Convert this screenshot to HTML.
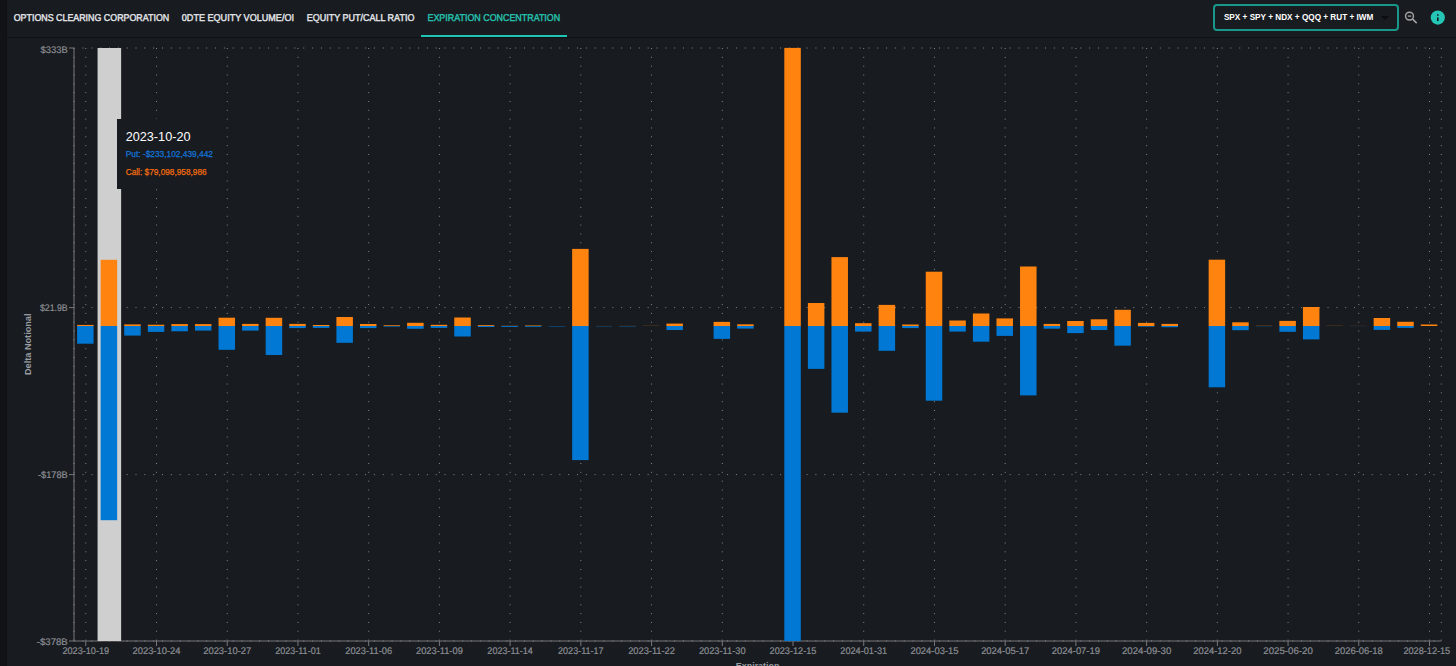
<!DOCTYPE html>
<html><head><meta charset="utf-8"><title>Expiration Concentration</title>
<style>
*{margin:0;padding:0;box-sizing:border-box}
html,body{width:1456px;height:666px;overflow:hidden;background:#181b1f;font-family:"Liberation Sans",sans-serif}
.strip{position:absolute;left:0;top:0;width:7px;height:666px;background:#111316}
.strip:after{content:"";position:absolute;right:0;top:0;width:1.5px;height:100%;background:#0e1012}
.hline{position:absolute;left:7px;right:0;top:37px;height:1px;background:#101215}
.uline{position:absolute;left:421px;top:35px;width:146px;height:2px;background:#1fc6b4}
.sel{position:absolute;left:1213px;top:4px;width:186px;height:27px;border:2px solid #19978a;border-radius:4px;background:#181b1f}
.sel i{position:absolute;left:166px;top:10px;width:0;height:0;border-left:4px solid transparent;border-right:4px solid transparent;border-top:4px solid #0c0d10}
svg{position:absolute;left:0;top:0}
text{font-family:"Liberation Sans",sans-serif}
.tl{text-rendering:geometricPrecision;font-size:9.6px;fill:#8a8d93;stroke:#8a8d93;stroke-width:0.2px}
.at{font-size:9.4px;font-weight:700;fill:#9a9da3}
.tab{text-rendering:geometricPrecision;font-size:9.9px;font-weight:400;stroke-width:0.4px}
.selt{font-size:9.3px;font-weight:700;fill:#fff}
.tip{position:absolute;left:117px;top:119px;width:106px;height:70px;background:#181b1f}
</style></head><body>
<div class="strip"></div>
<div class="hline"></div>
<div class="uline"></div>
<div class="sel"><i></i></div>
<svg width="1456" height="666" viewBox="0 0 1456 666">
<line x1="74" y1="48" x2="74" y2="641" stroke="#75777b" stroke-width="1"/>
<line x1="74" y1="641" x2="1441.3" y2="641" stroke="#75777b" stroke-width="1"/>
<line x1="74" y1="48" x2="1441.3" y2="48" stroke="#85888d" stroke-width="1" stroke-dasharray="1 7.83" stroke-dashoffset="0.3"/>
<line x1="74" y1="307.6" x2="1441.3" y2="307.6" stroke="#85888d" stroke-width="1" stroke-dasharray="1 7.83" stroke-dashoffset="0.3"/>
<line x1="74" y1="474.6" x2="1441.3" y2="474.6" stroke="#85888d" stroke-width="1" stroke-dasharray="1 7.83" stroke-dashoffset="0.3"/>
<line x1="74" y1="641" x2="1441.3" y2="641" stroke="#85888d" stroke-width="1" stroke-dasharray="1 7.83" stroke-dashoffset="0.3"/>
<line x1="85.79" y1="48" x2="85.79" y2="641" stroke="#85888d" stroke-width="1" stroke-dasharray="1 7.83"/>
<line x1="156.51" y1="48" x2="156.51" y2="641" stroke="#85888d" stroke-width="1" stroke-dasharray="1 7.83"/>
<line x1="227.23" y1="48" x2="227.23" y2="641" stroke="#85888d" stroke-width="1" stroke-dasharray="1 7.83"/>
<line x1="297.95" y1="48" x2="297.95" y2="641" stroke="#85888d" stroke-width="1" stroke-dasharray="1 7.83"/>
<line x1="368.68" y1="48" x2="368.68" y2="641" stroke="#85888d" stroke-width="1" stroke-dasharray="1 7.83"/>
<line x1="439.4" y1="48" x2="439.4" y2="641" stroke="#85888d" stroke-width="1" stroke-dasharray="1 7.83"/>
<line x1="510.12" y1="48" x2="510.12" y2="641" stroke="#85888d" stroke-width="1" stroke-dasharray="1 7.83"/>
<line x1="580.84" y1="48" x2="580.84" y2="641" stroke="#85888d" stroke-width="1" stroke-dasharray="1 7.83"/>
<line x1="651.57" y1="48" x2="651.57" y2="641" stroke="#85888d" stroke-width="1" stroke-dasharray="1 7.83"/>
<line x1="722.29" y1="48" x2="722.29" y2="641" stroke="#85888d" stroke-width="1" stroke-dasharray="1 7.83"/>
<line x1="793.01" y1="48" x2="793.01" y2="641" stroke="#85888d" stroke-width="1" stroke-dasharray="1 7.83"/>
<line x1="863.73" y1="48" x2="863.73" y2="641" stroke="#85888d" stroke-width="1" stroke-dasharray="1 7.83"/>
<line x1="934.46" y1="48" x2="934.46" y2="641" stroke="#85888d" stroke-width="1" stroke-dasharray="1 7.83"/>
<line x1="1005.18" y1="48" x2="1005.18" y2="641" stroke="#85888d" stroke-width="1" stroke-dasharray="1 7.83"/>
<line x1="1075.9" y1="48" x2="1075.9" y2="641" stroke="#85888d" stroke-width="1" stroke-dasharray="1 7.83"/>
<line x1="1146.62" y1="48" x2="1146.62" y2="641" stroke="#85888d" stroke-width="1" stroke-dasharray="1 7.83"/>
<line x1="1217.35" y1="48" x2="1217.35" y2="641" stroke="#85888d" stroke-width="1" stroke-dasharray="1 7.83"/>
<line x1="1288.07" y1="48" x2="1288.07" y2="641" stroke="#85888d" stroke-width="1" stroke-dasharray="1 7.83"/>
<line x1="1358.79" y1="48" x2="1358.79" y2="641" stroke="#85888d" stroke-width="1" stroke-dasharray="1 7.83"/>
<line x1="1429.51" y1="48" x2="1429.51" y2="641" stroke="#85888d" stroke-width="1" stroke-dasharray="1 7.83"/>
<line x1="1441.3" y1="48" x2="1441.3" y2="641" stroke="#85888d" stroke-width="1" stroke-dasharray="1 7.83"/>
<line x1="74" y1="48" x2="74" y2="641" stroke="#85888d" stroke-width="1" stroke-dasharray="1 7.83"/>
<rect x="97.57" y="48" width="23.57" height="593" fill="#cfcfcf"/>
<rect x="77.09" y="324.9" width="16.5" height="1.1" fill="#ff840f"/>
<rect x="77.09" y="326" width="16.5" height="17.7" fill="#0078d4"/>
<rect x="100.66" y="259.8" width="16.5" height="66.2" fill="#ff840f"/>
<rect x="100.66" y="326" width="16.5" height="194.2" fill="#0078d4"/>
<rect x="124.24" y="324.4" width="16.5" height="1.6" fill="#ff840f"/>
<rect x="124.24" y="326" width="16.5" height="9.6" fill="#0078d4"/>
<rect x="147.81" y="324.7" width="16.5" height="1.3" fill="#ff840f"/>
<rect x="147.81" y="326" width="16.5" height="5.9" fill="#0078d4"/>
<rect x="171.38" y="324.1" width="16.5" height="1.9" fill="#ff840f"/>
<rect x="171.38" y="326" width="16.5" height="5.3" fill="#0078d4"/>
<rect x="194.96" y="324.1" width="16.5" height="1.9" fill="#ff840f"/>
<rect x="194.96" y="326" width="16.5" height="4.6" fill="#0078d4"/>
<rect x="218.53" y="317.7" width="16.5" height="8.3" fill="#ff840f"/>
<rect x="218.53" y="326" width="16.5" height="23.8" fill="#0078d4"/>
<rect x="242.11" y="323.9" width="16.5" height="2.1" fill="#ff840f"/>
<rect x="242.11" y="326" width="16.5" height="4.6" fill="#0078d4"/>
<rect x="265.68" y="317.8" width="16.5" height="8.2" fill="#ff840f"/>
<rect x="265.68" y="326" width="16.5" height="29" fill="#0078d4"/>
<rect x="289.25" y="323.9" width="16.5" height="2.1" fill="#ff840f"/>
<rect x="289.25" y="326" width="16.5" height="2.1" fill="#0078d4"/>
<rect x="312.83" y="325" width="16.5" height="1" fill="#ff840f"/>
<rect x="312.83" y="326" width="16.5" height="1.9" fill="#0078d4"/>
<rect x="336.4" y="317" width="16.5" height="9" fill="#ff840f"/>
<rect x="336.4" y="326" width="16.5" height="16.8" fill="#0078d4"/>
<rect x="359.98" y="324" width="16.5" height="2" fill="#ff840f"/>
<rect x="359.98" y="326" width="16.5" height="2.1" fill="#0078d4"/>
<rect x="383.55" y="325.3" width="16.5" height="0.7" fill="#ff840f"/>
<rect x="383.55" y="326" width="16.5" height="0.6" fill="#0078d4"/>
<rect x="407.12" y="322.8" width="16.5" height="3.2" fill="#ff840f"/>
<rect x="407.12" y="326" width="16.5" height="2.8" fill="#0078d4"/>
<rect x="430.7" y="324.8" width="16.5" height="1.2" fill="#ff840f"/>
<rect x="430.7" y="326" width="16.5" height="1.9" fill="#0078d4"/>
<rect x="454.27" y="317.5" width="16.5" height="8.5" fill="#ff840f"/>
<rect x="454.27" y="326" width="16.5" height="10.5" fill="#0078d4"/>
<rect x="477.85" y="325.2" width="16.5" height="0.8" fill="#ff840f"/>
<rect x="477.85" y="326" width="16.5" height="1" fill="#0078d4"/>
<rect x="501.42" y="325.8" width="16.5" height="0.2" fill="#ff840f"/>
<rect x="501.42" y="326" width="16.5" height="0.9" fill="#0078d4"/>
<rect x="525" y="325.5" width="16.5" height="0.5" fill="#ff840f"/>
<rect x="525" y="326" width="16.5" height="0.8" fill="#0078d4"/>
<rect x="548.57" y="326" width="16.5" height="0.4" fill="#0078d4"/>
<rect x="572.14" y="248.9" width="16.5" height="77.1" fill="#ff840f"/>
<rect x="572.14" y="326" width="16.5" height="134.1" fill="#0078d4"/>
<rect x="595.72" y="325.95" width="16.5" height="0.05" fill="#ff840f"/>
<rect x="595.72" y="326" width="16.5" height="0.3" fill="#0078d4"/>
<rect x="619.29" y="325.92" width="16.5" height="0.08" fill="#ff840f"/>
<rect x="619.29" y="326" width="16.5" height="0.35" fill="#0078d4"/>
<rect x="642.87" y="325.85" width="16.5" height="0.15" fill="#ff840f"/>
<rect x="666.44" y="323.6" width="16.5" height="2.4" fill="#ff840f"/>
<rect x="666.44" y="326" width="16.5" height="4" fill="#0078d4"/>
<rect x="713.59" y="321.9" width="16.5" height="4.1" fill="#ff840f"/>
<rect x="713.59" y="326" width="16.5" height="12.9" fill="#0078d4"/>
<rect x="737.16" y="324.3" width="16.5" height="1.7" fill="#ff840f"/>
<rect x="737.16" y="326" width="16.5" height="2.6" fill="#0078d4"/>
<rect x="784.31" y="47.9" width="16.5" height="278.1" fill="#ff840f"/>
<rect x="784.31" y="326" width="16.5" height="315" fill="#0078d4"/>
<rect x="807.89" y="303" width="16.5" height="23" fill="#ff840f"/>
<rect x="807.89" y="326" width="16.5" height="42.9" fill="#0078d4"/>
<rect x="831.46" y="257.1" width="16.5" height="68.9" fill="#ff840f"/>
<rect x="831.46" y="326" width="16.5" height="86.7" fill="#0078d4"/>
<rect x="855.03" y="323.2" width="16.5" height="2.8" fill="#ff840f"/>
<rect x="855.03" y="326" width="16.5" height="5.6" fill="#0078d4"/>
<rect x="878.61" y="304.9" width="16.5" height="21.1" fill="#ff840f"/>
<rect x="878.61" y="326" width="16.5" height="24.8" fill="#0078d4"/>
<rect x="902.18" y="324.5" width="16.5" height="1.5" fill="#ff840f"/>
<rect x="902.18" y="326" width="16.5" height="2.1" fill="#0078d4"/>
<rect x="925.76" y="271.7" width="16.5" height="54.3" fill="#ff840f"/>
<rect x="925.76" y="326" width="16.5" height="74.7" fill="#0078d4"/>
<rect x="949.33" y="320.5" width="16.5" height="5.5" fill="#ff840f"/>
<rect x="949.33" y="326" width="16.5" height="5.6" fill="#0078d4"/>
<rect x="972.9" y="313.5" width="16.5" height="12.5" fill="#ff840f"/>
<rect x="972.9" y="326" width="16.5" height="15.7" fill="#0078d4"/>
<rect x="996.48" y="318.4" width="16.5" height="7.6" fill="#ff840f"/>
<rect x="996.48" y="326" width="16.5" height="9.9" fill="#0078d4"/>
<rect x="1020.05" y="266.5" width="16.5" height="59.5" fill="#ff840f"/>
<rect x="1020.05" y="326" width="16.5" height="69.4" fill="#0078d4"/>
<rect x="1043.63" y="323.9" width="16.5" height="2.1" fill="#ff840f"/>
<rect x="1043.63" y="326" width="16.5" height="2.7" fill="#0078d4"/>
<rect x="1067.2" y="321" width="16.5" height="5" fill="#ff840f"/>
<rect x="1067.2" y="326" width="16.5" height="7.1" fill="#0078d4"/>
<rect x="1090.77" y="319.3" width="16.5" height="6.7" fill="#ff840f"/>
<rect x="1090.77" y="326" width="16.5" height="4" fill="#0078d4"/>
<rect x="1114.35" y="309.8" width="16.5" height="16.2" fill="#ff840f"/>
<rect x="1114.35" y="326" width="16.5" height="19.7" fill="#0078d4"/>
<rect x="1137.92" y="322.9" width="16.5" height="3.1" fill="#ff840f"/>
<rect x="1137.92" y="326" width="16.5" height="0.6" fill="#0078d4"/>
<rect x="1161.5" y="323.9" width="16.5" height="2.1" fill="#ff840f"/>
<rect x="1161.5" y="326" width="16.5" height="1.2" fill="#0078d4"/>
<rect x="1208.65" y="259.7" width="16.5" height="66.3" fill="#ff840f"/>
<rect x="1208.65" y="326" width="16.5" height="61.3" fill="#0078d4"/>
<rect x="1232.22" y="322.3" width="16.5" height="3.7" fill="#ff840f"/>
<rect x="1232.22" y="326" width="16.5" height="4.2" fill="#0078d4"/>
<rect x="1255.79" y="325.82" width="16.5" height="0.18" fill="#ff840f"/>
<rect x="1255.79" y="326" width="16.5" height="0.18" fill="#0078d4"/>
<rect x="1279.37" y="320.9" width="16.5" height="5.1" fill="#ff840f"/>
<rect x="1279.37" y="326" width="16.5" height="5.8" fill="#0078d4"/>
<rect x="1302.94" y="307" width="16.5" height="19" fill="#ff840f"/>
<rect x="1302.94" y="326" width="16.5" height="13.4" fill="#0078d4"/>
<rect x="1326.52" y="325.85" width="16.5" height="0.15" fill="#ff840f"/>
<rect x="1350.09" y="325.92" width="16.5" height="0.08" fill="#ff840f"/>
<rect x="1350.09" y="326" width="16.5" height="0.08" fill="#0078d4"/>
<rect x="1373.66" y="318" width="16.5" height="8" fill="#ff840f"/>
<rect x="1373.66" y="326" width="16.5" height="3.9" fill="#0078d4"/>
<rect x="1397.24" y="321.8" width="16.5" height="4.2" fill="#ff840f"/>
<rect x="1397.24" y="326" width="16.5" height="1.9" fill="#0078d4"/>
<rect x="1420.81" y="324.5" width="16.5" height="1.5" fill="#ff840f"/>
<line x1="69" y1="48" x2="74" y2="48" stroke="#75777b" stroke-width="1"/>
<text x="40.5" y="52.8" textLength="27.2" lengthAdjust="spacingAndGlyphs" class="tl">$333B</text>
<line x1="69" y1="307.6" x2="74" y2="307.6" stroke="#75777b" stroke-width="1"/>
<text x="39.9" y="310.8" textLength="27.8" lengthAdjust="spacingAndGlyphs" class="tl">$21.9B</text>
<line x1="69" y1="474.6" x2="74" y2="474.6" stroke="#75777b" stroke-width="1"/>
<text x="38" y="477.8" textLength="29.7" lengthAdjust="spacingAndGlyphs" class="tl">-$178B</text>
<line x1="69" y1="641" x2="74" y2="641" stroke="#75777b" stroke-width="1"/>
<text x="36.8" y="644.5" textLength="30.9" lengthAdjust="spacingAndGlyphs" class="tl">-$378B</text>
<line x1="85.79" y1="641" x2="85.79" y2="646" stroke="#75777b" stroke-width="1"/>
<text x="62.39" y="653.9" textLength="46.8" lengthAdjust="spacingAndGlyphs" class="tl">2023-10-19</text>
<line x1="156.51" y1="641" x2="156.51" y2="646" stroke="#75777b" stroke-width="1"/>
<text x="132.46" y="653.9" textLength="48.1" lengthAdjust="spacingAndGlyphs" class="tl">2023-10-24</text>
<line x1="227.23" y1="641" x2="227.23" y2="646" stroke="#75777b" stroke-width="1"/>
<text x="203.18" y="653.9" textLength="48.1" lengthAdjust="spacingAndGlyphs" class="tl">2023-10-27</text>
<line x1="297.95" y1="641" x2="297.95" y2="646" stroke="#75777b" stroke-width="1"/>
<text x="275.2" y="653.9" textLength="45.5" lengthAdjust="spacingAndGlyphs" class="tl">2023-11-01</text>
<line x1="368.68" y1="641" x2="368.68" y2="646" stroke="#75777b" stroke-width="1"/>
<text x="345.28" y="653.9" textLength="46.8" lengthAdjust="spacingAndGlyphs" class="tl">2023-11-06</text>
<line x1="439.4" y1="641" x2="439.4" y2="646" stroke="#75777b" stroke-width="1"/>
<text x="416" y="653.9" textLength="46.8" lengthAdjust="spacingAndGlyphs" class="tl">2023-11-09</text>
<line x1="510.12" y1="641" x2="510.12" y2="646" stroke="#75777b" stroke-width="1"/>
<text x="487.37" y="653.9" textLength="45.5" lengthAdjust="spacingAndGlyphs" class="tl">2023-11-14</text>
<line x1="580.84" y1="641" x2="580.84" y2="646" stroke="#75777b" stroke-width="1"/>
<text x="558.09" y="653.9" textLength="45.5" lengthAdjust="spacingAndGlyphs" class="tl">2023-11-17</text>
<line x1="651.57" y1="641" x2="651.57" y2="646" stroke="#75777b" stroke-width="1"/>
<text x="628.17" y="653.9" textLength="46.8" lengthAdjust="spacingAndGlyphs" class="tl">2023-11-22</text>
<line x1="722.29" y1="641" x2="722.29" y2="646" stroke="#75777b" stroke-width="1"/>
<text x="698.89" y="653.9" textLength="46.8" lengthAdjust="spacingAndGlyphs" class="tl">2023-11-30</text>
<line x1="793.01" y1="641" x2="793.01" y2="646" stroke="#75777b" stroke-width="1"/>
<text x="769.61" y="653.9" textLength="46.8" lengthAdjust="spacingAndGlyphs" class="tl">2023-12-15</text>
<line x1="863.73" y1="641" x2="863.73" y2="646" stroke="#75777b" stroke-width="1"/>
<text x="840.33" y="653.9" textLength="46.8" lengthAdjust="spacingAndGlyphs" class="tl">2024-01-31</text>
<line x1="934.46" y1="641" x2="934.46" y2="646" stroke="#75777b" stroke-width="1"/>
<text x="910.41" y="653.9" textLength="48.1" lengthAdjust="spacingAndGlyphs" class="tl">2024-03-15</text>
<line x1="1005.18" y1="641" x2="1005.18" y2="646" stroke="#75777b" stroke-width="1"/>
<text x="981.13" y="653.9" textLength="48.1" lengthAdjust="spacingAndGlyphs" class="tl">2024-05-17</text>
<line x1="1075.9" y1="641" x2="1075.9" y2="646" stroke="#75777b" stroke-width="1"/>
<text x="1051.85" y="653.9" textLength="48.1" lengthAdjust="spacingAndGlyphs" class="tl">2024-07-19</text>
<line x1="1146.62" y1="641" x2="1146.62" y2="646" stroke="#75777b" stroke-width="1"/>
<text x="1121.92" y="653.9" textLength="49.4" lengthAdjust="spacingAndGlyphs" class="tl">2024-09-30</text>
<line x1="1217.35" y1="641" x2="1217.35" y2="646" stroke="#75777b" stroke-width="1"/>
<text x="1193.3" y="653.9" textLength="48.1" lengthAdjust="spacingAndGlyphs" class="tl">2024-12-20</text>
<line x1="1288.07" y1="641" x2="1288.07" y2="646" stroke="#75777b" stroke-width="1"/>
<text x="1263.37" y="653.9" textLength="49.4" lengthAdjust="spacingAndGlyphs" class="tl">2025-06-20</text>
<line x1="1358.79" y1="641" x2="1358.79" y2="646" stroke="#75777b" stroke-width="1"/>
<text x="1334.74" y="653.9" textLength="48.1" lengthAdjust="spacingAndGlyphs" class="tl">2026-06-18</text>
<line x1="1429.51" y1="641" x2="1429.51" y2="646" stroke="#75777b" stroke-width="1"/>
<text x="1403.4" y="653.9" textLength="46.8" lengthAdjust="spacingAndGlyphs" class="tl">2028-12-15</text>
<text x="0" y="0" transform="translate(31.2 375) rotate(-90)" textLength="61.5" lengthAdjust="spacingAndGlyphs" class="at">Delta Notional</text>
<text x="735.8" y="669" textLength="43.6" lengthAdjust="spacingAndGlyphs" class="at">Expiration</text>
</svg>
<div class="tip"></div>
<svg width="1456" height="666" viewBox="0 0 1456 666">
<text x="13.7" y="20.9" textLength="155.5" lengthAdjust="spacingAndGlyphs" class="tab" fill="#e4e6ea" stroke="#e4e6ea">OPTIONS CLEARING CORPORATION</text>
<text x="181.8" y="20.9" textLength="112.2" lengthAdjust="spacingAndGlyphs" class="tab" fill="#e4e6ea" stroke="#e4e6ea">0DTE EQUITY VOLUME/OI</text>
<text x="306.7" y="20.9" textLength="107.7" lengthAdjust="spacingAndGlyphs" class="tab" fill="#e4e6ea" stroke="#e4e6ea">EQUITY PUT/CALL RATIO</text>
<text x="427.5" y="20.9" textLength="132.7" lengthAdjust="spacingAndGlyphs" class="tab" fill="#25c3b0" stroke="#25c3b0">EXPIRATION CONCENTRATION</text>
<text x="1223.9" y="19.8" textLength="149.5" lengthAdjust="spacingAndGlyphs" class="selt">SPX + SPY + NDX + QQQ + RUT + IWM</text>
<text x="125.7" y="141.1" textLength="64.8" lengthAdjust="spacingAndGlyphs" style="font-size:12.7px" fill="#ffffff">2023-10-20</text>
<text x="125.7" y="157.1" textLength="87.3" lengthAdjust="spacingAndGlyphs" style="font-size:8.35px" fill="#1574d8" stroke="#1574d8" stroke-width="0.25">Put: -$233,102,439,442</text>
<text x="125.7" y="175.2" textLength="81" lengthAdjust="spacingAndGlyphs" style="font-size:8.3px" fill="#f26c10" stroke="#f26c10" stroke-width="0.25">Call: $79,098,958,986</text>
<circle cx="1409.5" cy="16.1" r="3.95" fill="none" stroke="#a3a3a3" stroke-width="1.45"/>
<line x1="1407.8" y1="16.1" x2="1411.2" y2="16.1" stroke="#a3a3a3" stroke-width="1.3"/>
<line x1="1412.6" y1="19.2" x2="1416.2" y2="22.6" stroke="#a3a3a3" stroke-width="1.6" stroke-linecap="round"/>
<circle cx="1437.8" cy="17.55" r="7.1" fill="#25c6b5"/>
<rect x="1437.05" y="17.4" width="1.5" height="3.7" fill="#0d0f12"/>
<rect x="1437.05" y="14.3" width="1.5" height="1.4" fill="#0d0f12"/>
</svg>
</body></html>
